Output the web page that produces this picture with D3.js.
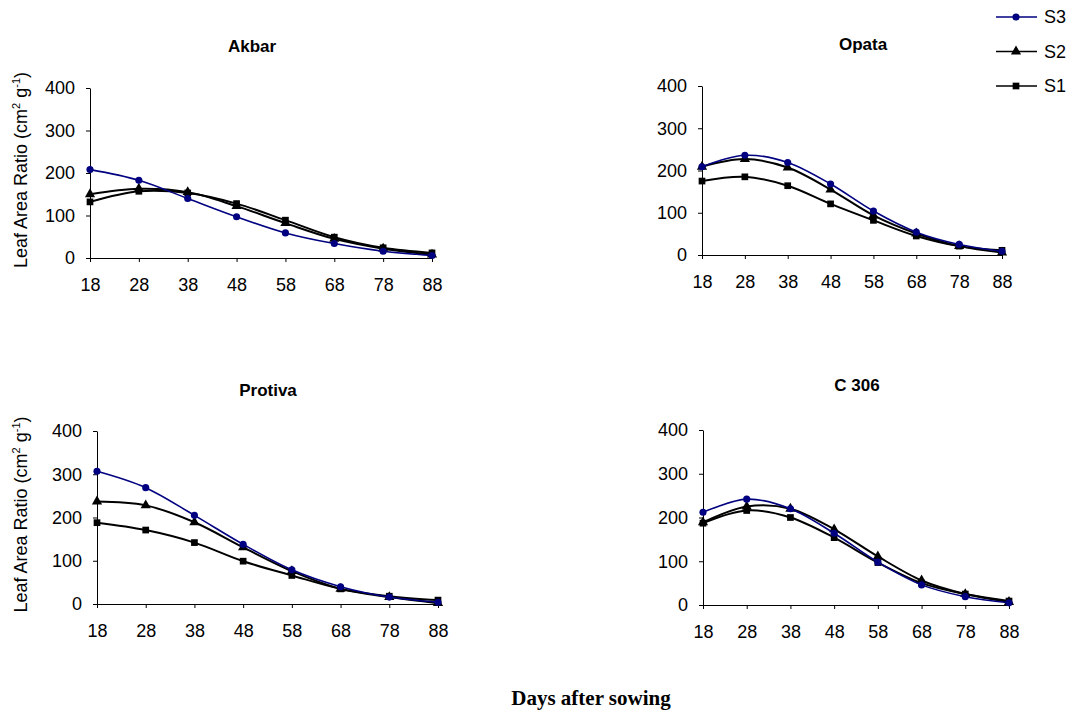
<!DOCTYPE html>
<html>
<head>
<meta charset="utf-8">
<script src="https://cdn.jsdelivr.net/npm/d3@7"></script>
<style>
  body { margin: 0; background: #fff; }
  svg { display: block; font-family: "Liberation Sans", Arial, sans-serif; }
  text { fill: #000; }
</style>
</head>
<body>
<svg width="1073" height="712"></svg>
<script>
var svg = d3.select("svg");

// data
var days = [18, 28, 38, 48, 58, 68, 78, 88];
var yTicks = [0, 100, 200, 300, 400];
var seriesNames = ["S3", "S2", "S1"];
var varieties = ["Akbar", "Opata", "Protiva", "C 306"];

var akbarS3 = [208, 183, 140, 97, 59, 34, 16, 6];
var akbarS2 = [150, 163, 155, 122, 82, 45, 22, 8];
var akbarS1 = [132, 157, 153, 128, 89, 49, 24, 12];

var opataS3 = [209, 236, 219, 168, 104, 54, 25, 9];
var opataS2 = [209, 227, 207, 155, 94, 51, 21, 6];
var opataS1 = [175, 185, 164, 121, 82, 45, 21, 11];

var protivaS3 = [307, 269, 205, 138, 79, 40, 16, 4];
var protivaS2 = [237, 228, 189, 131, 76, 35, 16, 2];
var protivaS1 = [188, 171, 142, 99, 66, 35, 18, 9];

var c306S3 = [212, 242, 220, 164, 98, 46, 19, 5];
var c306S2 = [189, 225, 220, 173, 111, 56, 25, 7];
var c306S1 = [187, 216, 200, 154, 97, 50, 25, 9];

var panelData = [
  [akbarS3, akbarS2, akbarS1],
  [opataS3, opataS2, opataS1],
  [protivaS3, protivaS2, protivaS1],
  [c306S3, c306S2, c306S1]
];

// layout of the four plot areas
var boxes = [
  {x0: 90,  x1: 432,  y0: 88,  y1: 258, tx: 252, ty: 52, yLabel: true},
  {x0: 702, x1: 1002, y0: 86,  y1: 255, tx: 863, ty: 50, yLabel: false},
  {x0: 97,  x1: 438,  y0: 431, y1: 604, tx: 268, ty: 396, yLabel: true},
  {x0: 703, x1: 1009, y0: 430, y1: 605, tx: 857, ty: 391, yLabel: false}
];

var colors = {S3: "#000080", S2: "#000", S1: "#000"};
var symbols = {S3: d3.symbolCircle, S2: d3.symbolTriangle, S1: d3.symbolSquare};
var symSize = {S3: 40, S2: 45, S1: 45};

var line = d3.line().curve(d3.curveCatmullRom.alpha(0));

boxes.forEach(function(b, i) {
  var x = d3.scaleLinear().domain([18, 88]).range([b.x0, b.x1]);
  var y = d3.scaleLinear().domain([0, 400]).range([b.y1, b.y0]);
  var g = svg.append("g");

  g.append("g")
    .attr("transform", "translate(0," + b.y1 + ")")
    .call(d3.axisBottom(x).tickValues(days).tickSize(4).tickPadding(16).tickSizeOuter(0))
    .call(function(a) {
      a.attr("font-family", null).attr("font-size", 18);
      a.selectAll("line,path").attr("stroke", "#000");
    });

  g.append("g")
    .attr("transform", "translate(" + b.x0 + ",0)")
    .call(d3.axisLeft(y).tickValues(yTicks).tickSize(4).tickPadding(11).tickSizeOuter(0))
    .call(function(a) {
      a.attr("font-family", null).attr("font-size", 18);
      a.selectAll("line,path").attr("stroke", "#000");
    });

  g.append("text")
    .attr("x", b.tx).attr("y", b.ty)
    .attr("text-anchor", "middle")
    .attr("font-size", 17).attr("font-weight", "bold")
    .text(varieties[i]);

  if (b.yLabel) {
    var t = g.append("text")
      .attr("transform", "translate(27," + ((b.y0 + b.y1) / 2 - 3) + ") rotate(-90)")
      .attr("text-anchor", "middle")
      .attr("font-size", 18);
    t.append("tspan").text("Leaf Area Ratio (cm");
    t.append("tspan").attr("font-size", 11).attr("dy", -7).text("2");
    t.append("tspan").attr("dy", 7).text(" g");
    t.append("tspan").attr("font-size", 11).attr("dy", -7).text("-1");
    t.append("tspan").attr("dy", 7).text(")");
  }

  // draw S1 first so S3 lies on top
  seriesNames.slice().reverse().forEach(function(name) {
    var vals = panelData[i][seriesNames.indexOf(name)];
    var pts = days.map(function(d, k) { return [x(d), y(vals[k])]; });
    g.append("path")
      .attr("d", line(pts))
      .attr("fill", "none")
      .attr("stroke", colors[name])
      .attr("stroke-width", name === "S3" ? 1.6 : 2);
    g.selectAll(null)
      .data(pts)
      .enter().append("path")
      .attr("transform", function(p) { return "translate(" + p[0] + "," + p[1] + ")"; })
      .attr("d", d3.symbol().type(symbols[name]).size(symSize[name]))
      .attr("fill", colors[name]);
  });
});

// legend
var legend = svg.append("g").attr("transform", "translate(996,0)");
var legY = d3.scalePoint().domain(seriesNames).range([17, 86]);
seriesNames.forEach(function(name) {
  var row = legend.append("g").attr("transform", "translate(0," + legY(name) + ")");
  row.append("line").attr("x1", 0).attr("x2", 41)
    .attr("stroke", colors[name]).attr("stroke-width", 1.6);
  row.append("path")
    .attr("transform", "translate(20,0)")
    .attr("d", d3.symbol().type(symbols[name]).size(symSize[name]))
    .attr("fill", colors[name]);
  row.append("text").attr("x", 48).attr("dy", "0.35em")
    .attr("font-size", 18).text(name);
});

svg.append("text")
  .attr("x", 591).attr("y", 705)
  .attr("text-anchor", "middle")
  .style("font-family", "'Liberation Serif', 'Times New Roman', serif")
  .attr("font-weight", "bold")
  .attr("font-size", 21)
  .text("Days after sowing");
</script>
</body>
</html>
